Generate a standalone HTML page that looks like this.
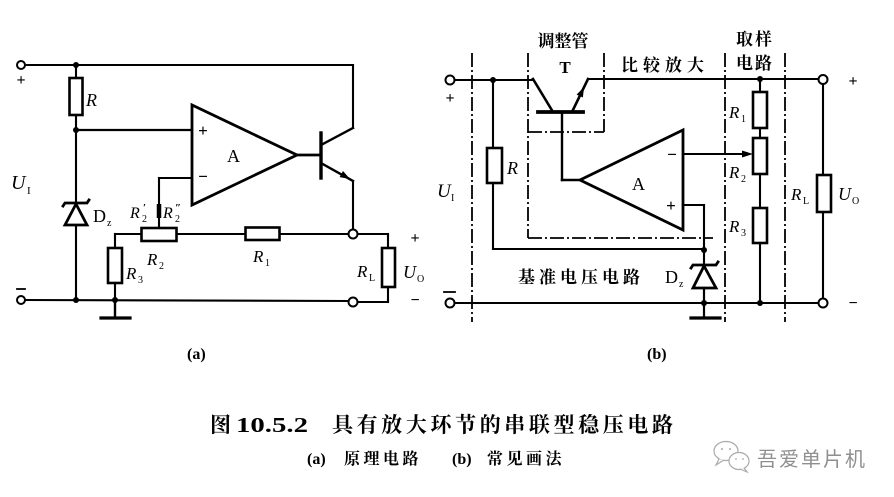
<!DOCTYPE html>
<html><head><meta charset="utf-8"><style>
html,body{margin:0;padding:0;background:#fff;}
svg{display:block;}
.it{font-family:"Liberation Serif",serif;font-style:italic;}
.rm{font-family:"Liberation Serif",serif;}
.cj{font-family:"Liberation Serif","Noto Serif CJK SC",serif;font-weight:700;}
</style></head><body>
<svg width="894" height="497" viewBox="0 0 894 497" xmlns="http://www.w3.org/2000/svg">
<rect width="894" height="497" fill="#fff"/>
<g stroke="#000" stroke-width="2.1" fill="none" stroke-linecap="square">
<!-- ===== LEFT CIRCUIT (a) ===== -->
<line x1="25" y1="65" x2="353" y2="65"/>
<line x1="353" y1="65" x2="353" y2="128"/>
<line x1="353" y1="128" x2="321" y2="145" stroke-width="2.4"/>
<line x1="76" y1="65" x2="76" y2="78"/>
<rect x="69.5" y="78" width="13" height="37" stroke-width="2.6"/>
<line x1="76" y1="115" x2="76" y2="130"/>
<line x1="76" y1="130" x2="192" y2="130" stroke-width="2.3"/>
<line x1="76" y1="130" x2="76" y2="203"/>
<line x1="76" y1="225" x2="76" y2="300"/>
<path d="M63,206 L65,203 L87,203 L89,200" stroke-width="2.8"/>
<polygon points="76,204 65,225 87,225" stroke-width="2.8"/>
<line x1="25" y1="300" x2="349" y2="301"/>
<line x1="115" y1="300" x2="115" y2="318" stroke-width="2.4"/>
<line x1="101" y1="318" x2="130" y2="318" stroke-width="3.2"/>
<line x1="115" y1="234" x2="115" y2="248"/>
<rect x="108" y="248" width="14" height="35" stroke-width="2.6"/>
<line x1="115" y1="283" x2="115" y2="300"/>
<line x1="115" y1="234" x2="141" y2="234"/>
<rect x="141.5" y="228" width="35" height="13" stroke-width="2.6"/>
<line x1="177" y1="234" x2="245" y2="234"/>
<rect x="245.5" y="227.5" width="34" height="12.5" stroke-width="2.6"/>
<line x1="280" y1="234" x2="349" y2="234"/>
<line x1="192" y1="178" x2="159" y2="178"/>
<line x1="159" y1="178" x2="159" y2="228"/>
<line x1="159" y1="204" x2="159" y2="218" stroke-width="4.5" stroke-linecap="butt"/>
<polygon points="192,105 192,205 297,155" stroke-width="2.8" stroke-linejoin="miter"/>
<line x1="297" y1="155" x2="321" y2="155" stroke-width="2.8"/>
<line x1="321" y1="133" x2="321" y2="178" stroke-width="3.4"/>
<line x1="321" y1="163" x2="353" y2="181" stroke-width="2.4"/>
<line x1="353" y1="181" x2="353" y2="229"/>
<line x1="357.5" y1="234" x2="388" y2="234"/>
<line x1="388" y1="234" x2="388" y2="248"/>
<rect x="382" y="248" width="13" height="39" stroke-width="2.6"/>
<line x1="388" y1="287" x2="388" y2="302"/>
<line x1="388" y1="302" x2="357.5" y2="302"/>
<line x1="17" y1="289" x2="25" y2="289" stroke-width="1.8"/>

<!-- ===== RIGHT CIRCUIT (b) ===== -->
<line x1="454.5" y1="80" x2="533" y2="80"/>
<line x1="588" y1="79" x2="818.5" y2="79"/>
<line x1="493" y1="80" x2="493" y2="148"/>
<rect x="487" y="148" width="15" height="35" stroke-width="2.6"/>
<line x1="493" y1="183" x2="493" y2="249"/>
<line x1="493" y1="249" x2="704" y2="249"/>
<line x1="533" y1="79" x2="553" y2="112" stroke-width="2.6"/>
<line x1="538" y1="112" x2="583" y2="112" stroke-width="3.8"/>
<line x1="572" y1="112" x2="588" y2="79" stroke-width="2.6"/>
<line x1="562" y1="112" x2="562" y2="180" stroke-width="2.4"/>
<line x1="562" y1="180" x2="580" y2="180" stroke-width="2.4"/>
<polygon points="580,180 683,130 683,230" stroke-width="2.8" stroke-linejoin="miter"/>
<line x1="683" y1="154" x2="745" y2="154"/>
<line x1="683" y1="205" x2="704" y2="205"/>
<line x1="704" y1="205" x2="704" y2="265"/>
<path d="M691,268 L693,265 L716,265 L718,262" stroke-width="2.8"/>
<polygon points="704,266 693,288 716,288" stroke-width="2.8"/>
<line x1="704" y1="288" x2="704" y2="318" stroke-width="2.2"/>
<line x1="691" y1="318" x2="720" y2="318" stroke-width="3.2"/>
<line x1="454.5" y1="303" x2="818.5" y2="303"/>
<line x1="444" y1="292" x2="455" y2="292" stroke-width="1.8"/>
<line x1="760" y1="79" x2="760" y2="92"/>
<rect x="753" y="92" width="14" height="36" stroke-width="2.6"/>
<line x1="760" y1="128" x2="760" y2="138"/>
<rect x="753" y="138" width="14" height="36" stroke-width="2.6"/>
<line x1="760" y1="174" x2="760" y2="208"/>
<rect x="753" y="208" width="14" height="35" stroke-width="2.6"/>
<line x1="760" y1="243" x2="760" y2="303"/>
<line x1="823" y1="84" x2="823" y2="175"/>
<rect x="817" y="175" width="14" height="37" stroke-width="2.6"/>
<line x1="823" y1="212" x2="823" y2="298.5"/>
</g>

<g stroke="#000" stroke-width="1.8" fill="none" stroke-dasharray="14 3 2 3">
<line x1="472" y1="53" x2="472" y2="322"/>
<line x1="528" y1="53" x2="528" y2="238"/>
<line x1="604" y1="53" x2="604" y2="132"/>
<line x1="528" y1="132" x2="604" y2="132"/>
<line x1="528" y1="238" x2="713" y2="238"/>
<line x1="725" y1="53" x2="725" y2="322"/>
<line x1="785" y1="53" x2="785" y2="322"/>
</g>

<g stroke="#000" stroke-width="2" fill="#fff">
<circle cx="21" cy="65" r="4"/>
<circle cx="21" cy="300" r="4"/>
<circle cx="353" cy="234" r="4.5"/>
<circle cx="353" cy="302" r="4.5"/>
<circle cx="450" cy="80" r="4.5"/>
<circle cx="450" cy="303" r="4.5"/>
<circle cx="823" cy="79.5" r="4.5"/>
<circle cx="823" cy="303" r="4.5"/>
</g>
<g fill="#000">
<circle cx="76" cy="65" r="3"/>
<circle cx="76" cy="130" r="3"/>
<circle cx="76" cy="300" r="3"/>
<circle cx="115" cy="300" r="3"/>
<circle cx="493" cy="80" r="3"/>
<circle cx="760" cy="79" r="3"/>
<circle cx="704" cy="250" r="3"/>
<circle cx="704" cy="303" r="3"/>
<circle cx="760" cy="303" r="3"/>
<polygon points="350,179 339.6,177.1 343,171"/>
<polygon points="584,87 582.9,97.5 576.6,94.6"/>
<polygon points="753,154 742,150.5 742,157.5"/>
</g>

<g fill="#000">
<text x="21" y="85" class="rm" font-size="16" font-weight="700" text-anchor="middle">+</text>
<text x="86" y="106" class="it" font-size="18">R</text>
<text x="11" y="189" class="it" font-size="20">U</text>
<text x="27" y="194" class="rm" font-size="11">I</text>
<text x="93" y="222" class="rm" font-size="18">D</text>
<text x="107" y="226" class="rm" font-size="10">z</text>
<text x="203" y="136" class="rm" font-size="17" font-weight="700" text-anchor="middle">+</text>
<text x="203" y="182" class="rm" font-size="17" font-weight="700" text-anchor="middle">−</text>
<text x="227" y="162" class="rm" font-size="18">A</text>
<text x="130" y="218" class="it" font-size="16">R</text>
<text x="142" y="222" class="rm" font-size="10">2</text>
<text x="143" y="211" class="rm" font-size="11" font-weight="700">′</text>
<text x="163" y="218" class="it" font-size="16">R</text>
<text x="175" y="222" class="rm" font-size="10">2</text>
<text x="175" y="211" class="rm" font-size="11" font-weight="700">″</text>
<text x="147" y="265" class="it" font-size="17">R</text>
<text x="159" y="269" class="rm" font-size="10">2</text>
<text x="126" y="279" class="it" font-size="17">R</text>
<text x="138" y="283" class="rm" font-size="10">3</text>
<text x="253" y="262" class="it" font-size="17">R</text>
<text x="265" y="266" class="rm" font-size="10">1</text>
<text x="357" y="277" class="it" font-size="17">R</text>
<text x="369" y="281" class="rm" font-size="10">L</text>
<text x="403" y="278" class="it" font-size="18">U</text>
<text x="417" y="282" class="rm" font-size="10">O</text>
<text x="415" y="243" class="rm" font-size="16" font-weight="700" text-anchor="middle">+</text>
<text x="415" y="305" class="rm" font-size="16" font-weight="700" text-anchor="middle">−</text>

<text x="450" y="103" class="rm" font-size="16" font-weight="700" text-anchor="middle">+</text>
<text x="507" y="174" class="it" font-size="18">R</text>
<text x="437" y="197" class="it" font-size="19">U</text>
<text x="451" y="201" class="rm" font-size="10">I</text>
<text x="563" y="47" class="cj" font-size="17" text-anchor="middle">调整管</text>
<text x="565" y="73" class="rm" font-size="17" font-weight="700" text-anchor="middle">T</text>
<text x="621" y="71" class="cj" font-size="17" letter-spacing="5">比较放大</text>
<text x="755" y="45" class="cj" font-size="17" text-anchor="middle" letter-spacing="2">取样</text>
<text x="755" y="69" class="cj" font-size="17" text-anchor="middle" letter-spacing="2">电路</text>
<text x="632" y="190" class="rm" font-size="18">A</text>
<text x="672" y="160" class="rm" font-size="17" font-weight="700" text-anchor="middle">−</text>
<text x="671" y="211" class="rm" font-size="17" font-weight="700" text-anchor="middle">+</text>
<text x="518" y="283" class="cj" font-size="17" letter-spacing="4">基准电压电路</text>
<text x="665" y="283" class="rm" font-size="18">D</text>
<text x="679" y="287" class="rm" font-size="10">z</text>
<text x="729" y="118" class="it" font-size="17">R</text>
<text x="741" y="122" class="rm" font-size="10">1</text>
<text x="729" y="178" class="it" font-size="17">R</text>
<text x="741" y="182" class="rm" font-size="10">2</text>
<text x="729" y="232" class="it" font-size="17">R</text>
<text x="741" y="236" class="rm" font-size="10">3</text>
<text x="791" y="200" class="it" font-size="17">R</text>
<text x="803" y="204" class="rm" font-size="10">L</text>
<text x="838" y="200" class="it" font-size="18">U</text>
<text x="852" y="204" class="rm" font-size="10">O</text>
<text x="853" y="86" class="rm" font-size="16" font-weight="700" text-anchor="middle">+</text>
<text x="853" y="308" class="rm" font-size="16" font-weight="700" text-anchor="middle">−</text>

<text x="187" y="359" class="rm" font-size="16" font-weight="700">(a)</text>
<text x="647" y="359" class="rm" font-size="16" font-weight="700">(b)</text>
<text x="210" y="432" class="cj" font-size="21">图</text>
<text x="236" y="432" class="rm" font-size="21" font-weight="700" textLength="72" lengthAdjust="spacingAndGlyphs">10.5.2</text>
<text x="332" y="432" class="cj" font-size="21" textLength="341" lengthAdjust="spacing">具有放大环节的串联型稳压电路</text>
<text x="307" y="464" class="rm" font-size="16" font-weight="700">(a)</text>
<text x="344" y="464" class="cj" font-size="16" letter-spacing="3.5">原理电路</text>
<text x="452" y="464" class="rm" font-size="16" font-weight="700">(b)</text>
<text x="487" y="464" class="cj" font-size="16" letter-spacing="3.5">常见画法</text>
</g>

<g stroke="#aaa" stroke-width="1.2" fill="#fff">
<ellipse cx="726" cy="451" rx="12" ry="9.5"/>
<path d="M719,459 L716,465 L724,460"/>
<ellipse cx="739" cy="461" rx="10" ry="8.5"/>
<path d="M744,468 L747,472 L740,469"/>
</g>
<g fill="#aaa">
<circle cx="722" cy="449" r="1"/><circle cx="730" cy="449" r="1"/>
<circle cx="736" cy="459" r="0.9"/><circle cx="743" cy="459" r="0.9"/>
</g>
<text x="757" y="466" font-family="'Liberation Sans','Noto Sans CJK SC',sans-serif" font-size="20" fill="#8f8f8f" textLength="108" lengthAdjust="spacing">吾爱单片机</text>
</svg>
</body></html>
